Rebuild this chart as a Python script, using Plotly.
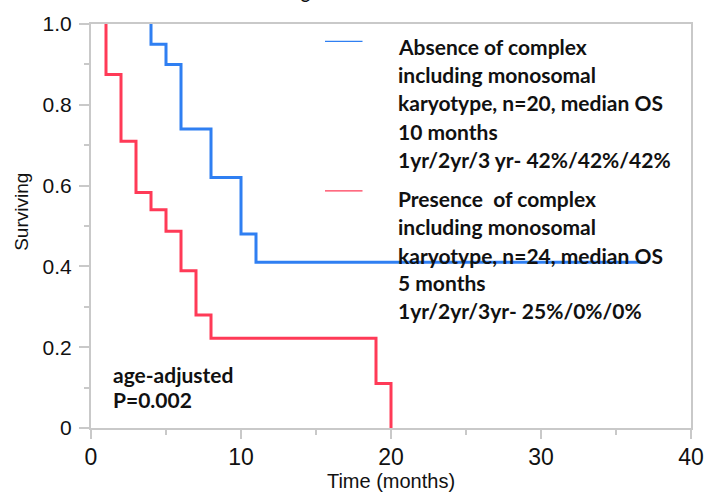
import plotly.graph_objects as go

# Data
absent_time = [4, 4, 5, 6, 8, 10, 11, 37]
absent_surv = [1.0, 0.95, 0.90, 0.74, 0.62, 0.48, 0.41, 0.41]
present_time = [1, 1, 2, 3, 4, 5, 6, 7, 8, 19, 20]
present_surv = [1.0, 0.875, 0.71, 0.583, 0.54, 0.487, 0.389, 0.28, 0.222, 0.11, 0.0]

x_ticks = [0, 10, 20, 30, 40]
y_ticks = [0, 0.2, 0.4, 0.6, 0.8, 1.0]
y_ticktext = ["0", "0.2", "0.4", "0.6", "0.8", "1.0"]

legend_absent = ["Absence of complex", "including monosomal",
                 "karyotype, n=20, median OS", "10 months",
                 "1yr/2yr/3 yr- 42%/42%/42%"]
legend_present = ["Presence  of complex", "including monosomal",
                  "karyotype, n=24, median OS", "5 months",
                  "1yr/2yr/3yr- 25%/0%/0%"]
pvalue_text = ["age-adjusted", "P=0.002"]

BLUE = "#2f7ff2"
RED = "#ff3a57"
AXC = "#c9c9c9"
NARROW = "Liberation Sans Narrow, Arial Narrow, Liberation Sans, Arial, sans-serif"
BOLD = "Lato, Open Sans, Carlito, Calibri, sans-serif"

fig = go.Figure()
fig.add_trace(go.Scatter(x=absent_time, y=absent_surv, mode="lines",
                         line=dict(color=BLUE, width=3, shape="hv"),
                         showlegend=False, hoverinfo="skip"))
fig.add_trace(go.Scatter(x=present_time, y=present_surv, mode="lines",
                         line=dict(color=RED, width=3, shape="hv"),
                         showlegend=False, hoverinfo="skip"))

W, H = 716, 498
L, R, T, B = 91, 12, 17, 66

# legend markers
fig.add_shape(type="line", xref="x", yref="y", x0=15.6, x1=18.1, y0=0.957, y1=0.957,
              line=dict(color=BLUE, width=1.2))
fig.add_shape(type="line", xref="x", yref="y", x0=15.6, x1=18.1, y0=0.587, y1=0.587,
              line=dict(color=RED, width=1.2))

# legend text lines
abs_y = [0.945, 0.875, 0.805, 0.734, 0.664]
pre_y = [0.568, 0.498, 0.428, 0.359, 0.290]
for txt, yy in zip(legend_absent, abs_y):
    fig.add_annotation(x=20.3, y=yy, xref="x", yref="y", text="<b>%s</b>" % txt,
                       showarrow=False, xanchor="left", yanchor="middle",
                       font=dict(family=BOLD, size=21, color="#111"))
for txt, yy in zip(legend_present, pre_y):
    fig.add_annotation(x=20.3, y=yy, xref="x", yref="y", text="<b>%s</b>" % txt,
                       showarrow=False, xanchor="left", yanchor="middle",
                       font=dict(family=BOLD, size=21, color="#111"))
for txt, yy in zip(pvalue_text, [0.133, 0.070]):
    fig.add_annotation(x=1.3, y=yy, xref="x", yref="y", text="<b>%s</b>" % txt,
                       showarrow=False, xanchor="left", yanchor="middle",
                       font=dict(family=BOLD, size=21, color="#111"))

# cut-off title (only its lower edge visible, as in the reference)
fig.add_annotation(x=0.385, y=1.046, xref="paper", yref="paper", text="<b>Figure 2a</b>",
                   showarrow=False, xanchor="center", yanchor="bottom",
                   font=dict(family=BOLD, size=17, color="#111"))

# y title
fig.add_annotation(x=-0.115, y=0.535, xref="paper", yref="paper", text="Surviving",
                   textangle=-90, showarrow=False, xanchor="center", yanchor="middle",
                   font=dict(family=NARROW, size=19, color="#111"))

fig.update_layout(
    width=W, height=H,
    margin=dict(l=L, r=R, t=T, b=B),
    paper_bgcolor="white", plot_bgcolor="white",
    xaxis=dict(range=[0, 40], tickvals=x_ticks, showgrid=False, zeroline=False,
               showline=True, linecolor=AXC, linewidth=2, mirror=True,
               ticks="outside", ticklen=9, tickwidth=2, tickcolor=AXC,
               minor=dict(tickvals=[5, 15, 25, 35], ticks="outside", ticklen=5,
                          tickwidth=2, tickcolor=AXC, showgrid=False),
               tickfont=dict(family=NARROW, size=23, color="#111"),
               ticklabelstandoff=-2,
               title=dict(text="Time (months)", standoff=2,
                          font=dict(family=NARROW, size=20, color="#111"))),
    yaxis=dict(range=[0, 1.0], tickvals=y_ticks, ticktext=y_ticktext,
               showgrid=False, zeroline=False,
               showline=True, linecolor=AXC, linewidth=2, mirror=True,
               ticks="outside", ticklen=10, tickwidth=2, tickcolor=AXC,
               minor=dict(tickvals=[0.1, 0.3, 0.5, 0.7, 0.9], ticks="outside", ticklen=5,
                          tickwidth=2, tickcolor=AXC, showgrid=False),
               tickfont=dict(family=NARROW, size=21, color="#111"),
               ticklabelstandoff=3),
)

fig.write_html("out.html", config={"displayModeBar": False},
               post_script="document.body.style.margin='0';document.body.style.overflow='hidden';")
